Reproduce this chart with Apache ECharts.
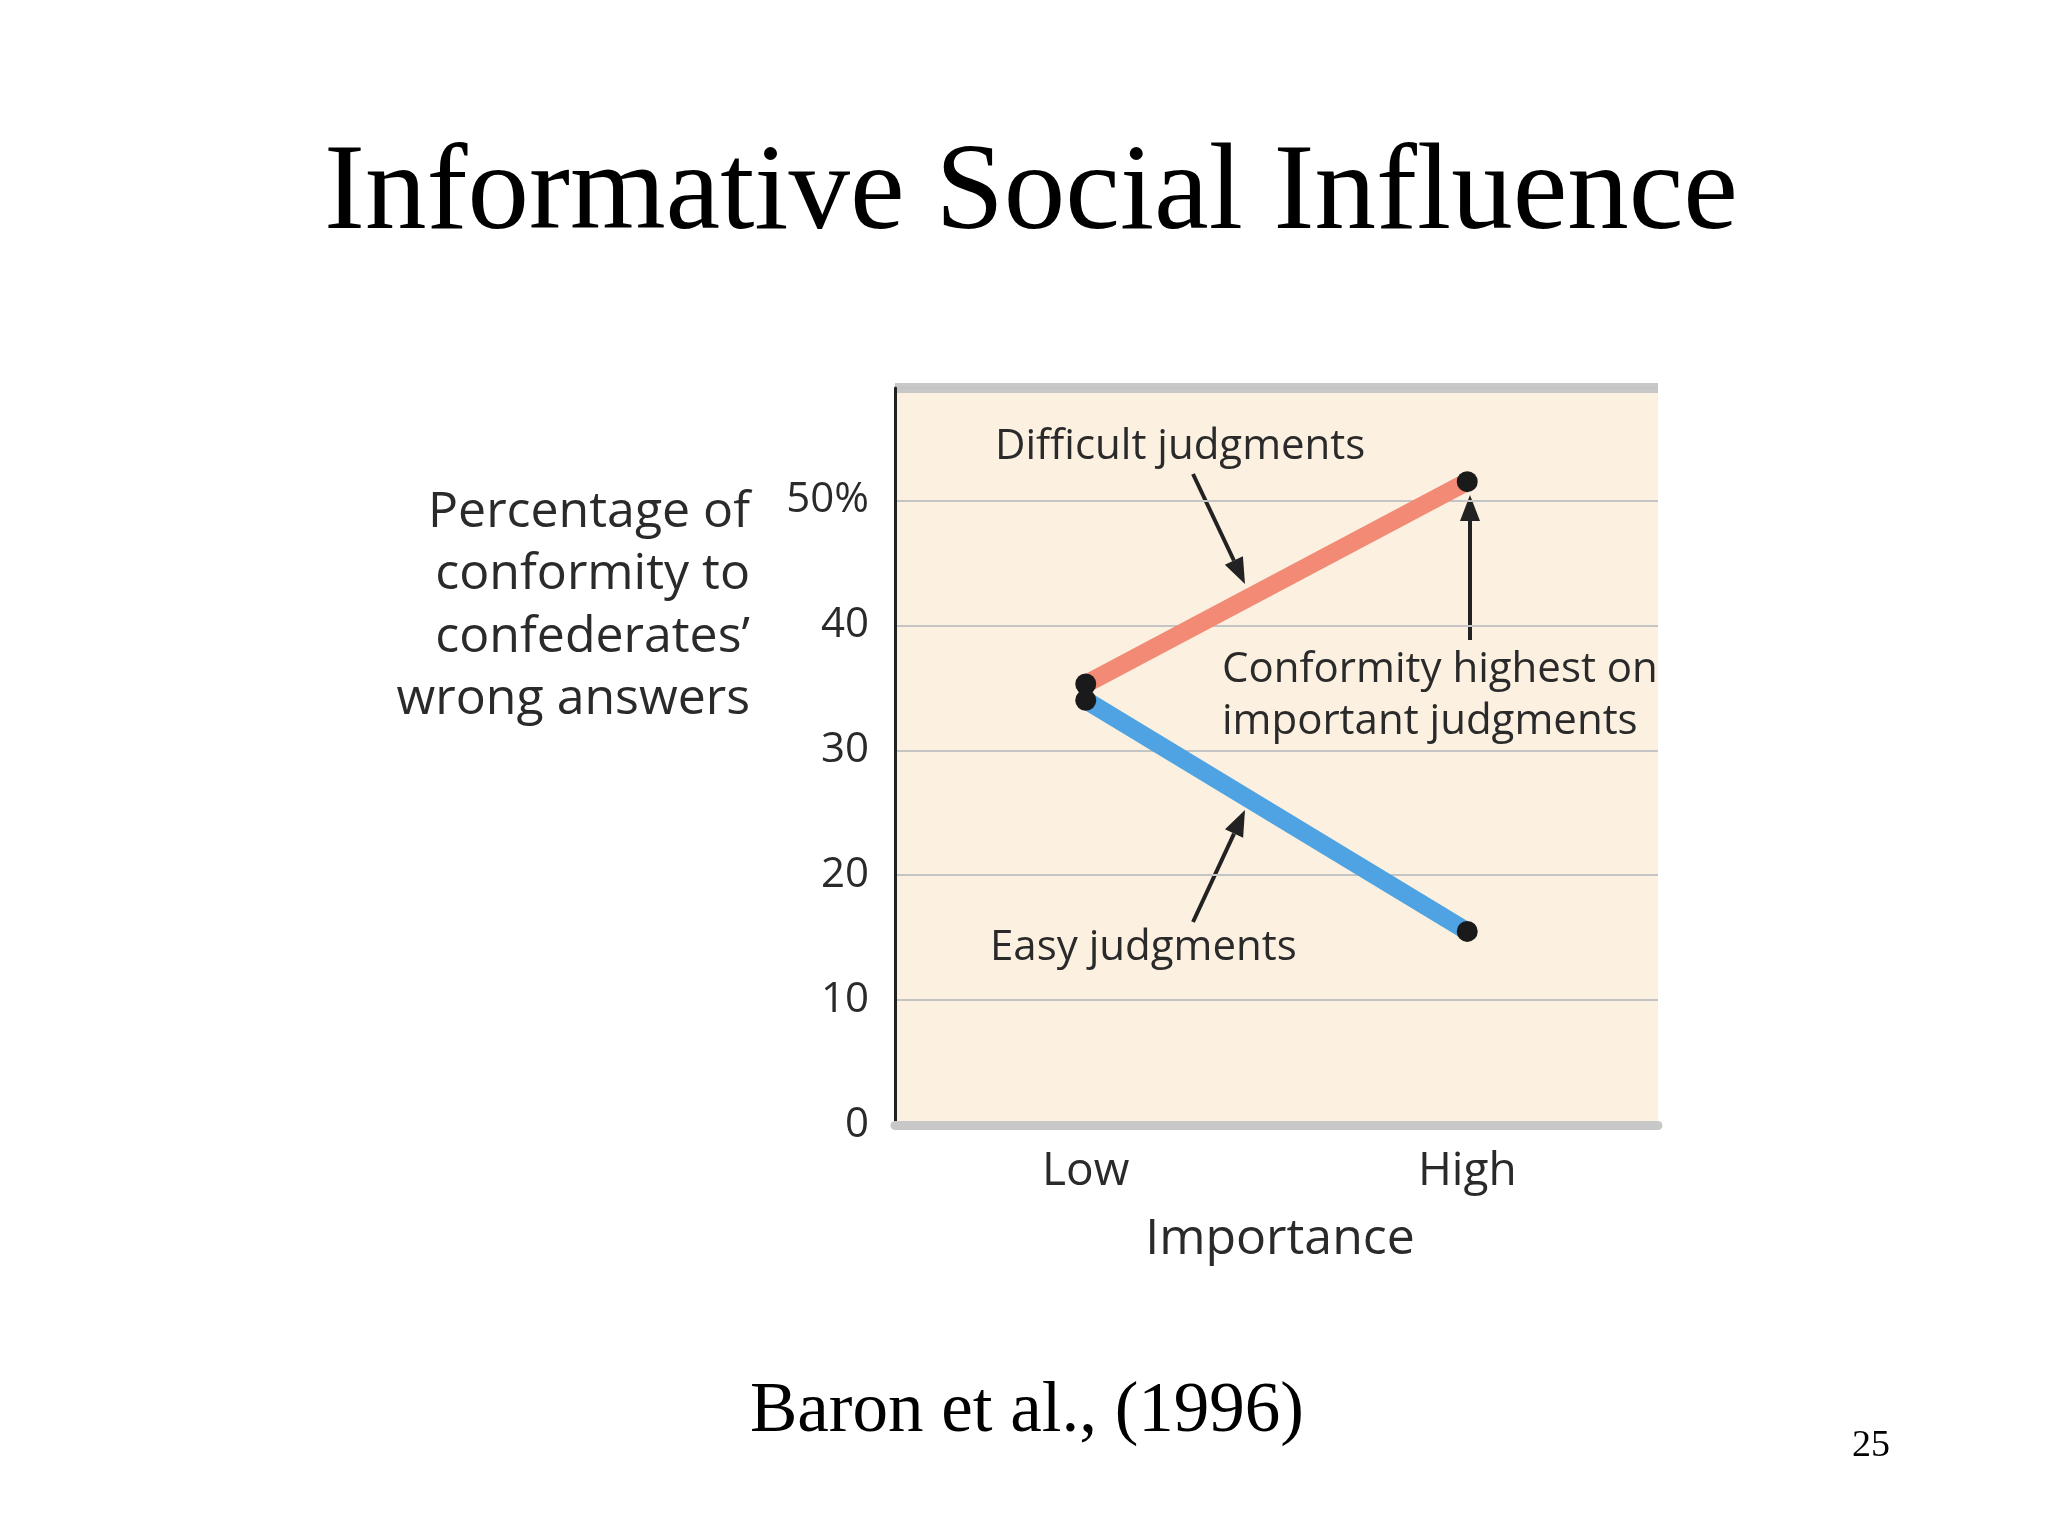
<!DOCTYPE html>
<html lang="en">
<head>
<meta charset="UTF-8">
<title>Informative Social Influence</title>
<script src="https://cdn.jsdelivr.net/npm/echarts@6/dist/echarts.min.js"></script>
<style>
  html, body { margin: 0; background: #fff; }
  #chart { width: 2048px; height: 1536px; }
</style>
</head>
<body>
<div id="chart"></div>
<script>
  var categories = ['Low', 'High']
  var difficult = [35.3, 51.5]
  var easy = [34, 15.5]
  var yTicks = { 0: '0', 10: '10', 20: '20', 30: '30', 40: '40', 50: '50%' }

  var chartFont = 'Open Sans'
  var myChart = echarts.init(document.getElementById('chart'))

  // arrow: line + triangle head at (x2, y2)
  function arrow(x1, y1, x2, y2) {
    var a = Math.atan2(y2 - y1, x2 - x1), L = 26, W = 10
    var bx = x2 - L * Math.cos(a), by = y2 - L * Math.sin(a)
    return [{
      type: 'line', shape: { x1: x1, y1: y1, x2: bx, y2: by },
      style: { stroke: '#222', lineWidth: 4 }
    }, {
      type: 'polygon',
      shape: { points: [[x2, y2],
        [bx + W * Math.sin(a), by - W * Math.cos(a)],
        [bx - W * Math.sin(a), by + W * Math.cos(a)]] },
      style: { fill: '#222' }
    }]
  }

  function txt(x, y, s, size, align, font, color) {
    return {
      type: 'text', x: x, y: y,
      style: { text: s, fontSize: size, fontFamily: font || chartFont, fill: color || '#2a2a2a',
        align: align || 'left', verticalAlign: 'middle', lineHeight: size * 1.25 }
    }
  }

  var graphics = [
    txt(1031, 196, 'Informative Social Influence', 123, 'center', 'Liberation Serif', '#000'),
    txt(1027, 1412, 'Baron et al., (1996)', 71, 'center', 'Liberation Serif', '#000'),
    txt(1871, 1446, '25', 38, 'center', 'Liberation Serif', '#000'),
    { type: 'rect', shape: { x: 895, y: 383, width: 763, height: 10 }, style: { fill: '#c8c8c8' } },
    txt(750, 606, 'Percentage of\nconformity to\nconfederates’\nwrong answers', 50, 'right'),
    txt(995, 447, 'Difficult judgments', 42),
    txt(1222, 696, 'Conformity highest on\nimportant judgments', 42),
    txt(990, 948, 'Easy judgments', 42),
    txt(1280, 1240, 'Importance', 50, 'center')
  ].concat(arrow(1193, 474, 1245, 584), arrow(1470, 640, 1470, 495), arrow(1193, 922, 1245, 810))

  var option = {
    animation: false,
    grid: { left: 895, right: 390, top: 388, bottom: 411, show: true, backgroundColor: '#fcf1e0', borderWidth: 0 },
    xAxis: {
      type: 'category', data: categories, boundaryGap: true,
      axisLine: { lineStyle: { color: '#c8c8c8', width: 9 } },
      axisTick: { show: false },
      axisLabel: { fontSize: 46, fontFamily: chartFont, color: '#2a2a2a', margin: 24 }
    },
    yAxis: {
      type: 'value', min: 0, max: 59, interval: 10,
      axisLine: { show: true, lineStyle: { color: '#222', width: 3 } },
      axisTick: { show: false },
      splitLine: { lineStyle: { color: '#c4c4c4', width: 2 } },
      axisLabel: { fontSize: 42, fontFamily: chartFont, color: '#2a2a2a', margin: 26, showMaxLabel: false,
        formatter: function (v) { return yTicks[v] !== undefined ? yTicks[v] : '' } }
    },
    series: [{
      name: 'Difficult judgments', type: 'line', data: difficult,
      lineStyle: { color: '#f28a76', width: 18 },
      symbol: 'circle', symbolSize: 21, itemStyle: { color: '#1a1a1a' }
    }, {
      name: 'Easy judgments', type: 'line', data: easy,
      lineStyle: { color: '#4fa3e2', width: 18 },
      symbol: 'circle', symbolSize: 21, itemStyle: { color: '#1a1a1a' }
    }],
    graphic: graphics
  }
  myChart.setOption(option)
</script>
</body>
</html>
